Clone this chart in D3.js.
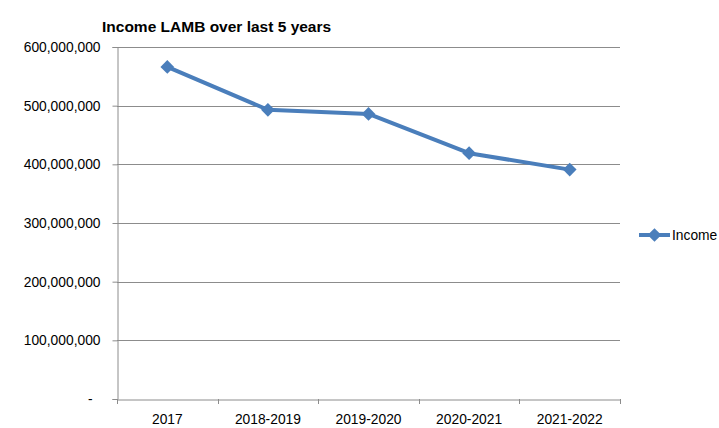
<!DOCTYPE html>
<html>
<head>
<meta charset="utf-8">
<script src="https://cdn.jsdelivr.net/npm/d3@7"></script>
<style>
  html, body { margin: 0; padding: 0; background: #fff; }
  svg { display: block; }
</style>
</head>
<body>
<div id="chart"></div>
<script>
const categories = ["2017", "2018-2019", "2019-2020", "2020-2021", "2021-2022"];
const incomeValues = [566000000, 493000000, 486000000, 419000000, 391000000];
const yTicks = [0, 100000000, 200000000, 300000000, 400000000, 500000000, 600000000];
const seriesName = "Income";
const chartTitle = "Income LAMB over last 5 years";

const W = 719, H = 428;
const margin = { left: 117, right: 99, top: 47, bottom: 29 };
const plotW = W - margin.left - margin.right;
const plotH = H - margin.top - margin.bottom;
const font = "'Liberation Sans', Arial, sans-serif";
const blue = "#4A7EBB";

const svg = d3.select("#chart").append("svg").attr("width", W).attr("height", H);

const x = d3.scaleBand().domain(categories).range([margin.left, margin.left + plotW]);
const y = d3.scaleLinear().domain([0, 600000000]).range([margin.top + plotH, margin.top]);

// gridlines
svg.append("g").selectAll("line").data(yTicks.filter(d => d > 0)).join("line")
  .attr("x1", margin.left).attr("x2", margin.left + plotW)
  .attr("y1", d => Math.round(y(d)) + 0.5).attr("y2", d => Math.round(y(d)) + 0.5)
  .attr("stroke", "#8c8c8c").attr("stroke-width", 1);

// y axis
const fmt = d => d === 0 ? "-" : d3.format(",")(d);
const yAxis = svg.append("g").attr("transform", `translate(${margin.left + 0.5},0)`)
  .call(d3.axisLeft(y).tickValues(yTicks).tickFormat(fmt).tickSize(5).tickPadding(12));
yAxis.select(".domain").attr("stroke", "#8c8c8c");
yAxis.selectAll(".tick line").attr("stroke", "#8c8c8c");
yAxis.selectAll("text").attr("font-family", font).attr("font-size", "13.8px").attr("fill", "#000");
yAxis.selectAll(".tick").filter(d => d === 0).select("text").attr("dx", "-8");

// x axis
const xAxis = svg.append("g").attr("transform", `translate(0,${Math.round(y(0)) + 0.5})`)
  .call(d3.axisBottom(x).tickSize(0).tickPadding(15));
xAxis.select(".domain").attr("stroke", "#8c8c8c");
xAxis.selectAll("text").attr("font-family", font).attr("font-size", "13.8px").attr("fill", "#000");
// category boundary ticks
const bounds = categories.map(c => x(c)).concat([x(categories[categories.length - 1]) + x.bandwidth()]);
svg.append("g").selectAll("line").data(bounds).join("line")
  .attr("x1", d => Math.round(d) + 0.5).attr("x2", d => Math.round(d) + 0.5)
  .attr("y1", Math.round(y(0))).attr("y2", Math.round(y(0)) + 5)
  .attr("stroke", "#8c8c8c");

// line
const cx = c => x(c) + x.bandwidth() / 2;
const line = d3.line().x((d, i) => cx(categories[i])).y(d => y(d));
svg.append("path").datum(incomeValues)
  .attr("d", line).attr("fill", "none").attr("stroke", blue)
  .attr("stroke-width", 4).attr("stroke-linejoin", "round");

const diamond = d3.symbol().type(d3.symbolDiamond2).size(120);
svg.append("g").selectAll("path").data(incomeValues).join("path")
  .attr("d", diamond)
  .attr("transform", (d, i) => `translate(${cx(categories[i])},${y(d)})`)
  .attr("fill", blue);

// legend
const lg = svg.append("g").attr("transform", "translate(639,235)");
lg.append("line").attr("x1", 0).attr("x2", 31).attr("y1", 0).attr("y2", 0)
  .attr("stroke", blue).attr("stroke-width", 4);
lg.append("path").attr("d", diamond).attr("transform", "translate(15.5,0)").attr("fill", blue);
lg.append("text").attr("x", 33).attr("y", 0).attr("dy", "0.35em")
  .attr("font-family", font).attr("font-size", "13.8px").text(seriesName);

// title
svg.append("text").attr("x", 102).attr("y", 32)
  .attr("font-family", font).attr("font-weight", "bold").attr("font-size", "15.5px")
  .text(chartTitle);
</script>
</body>
</html>
